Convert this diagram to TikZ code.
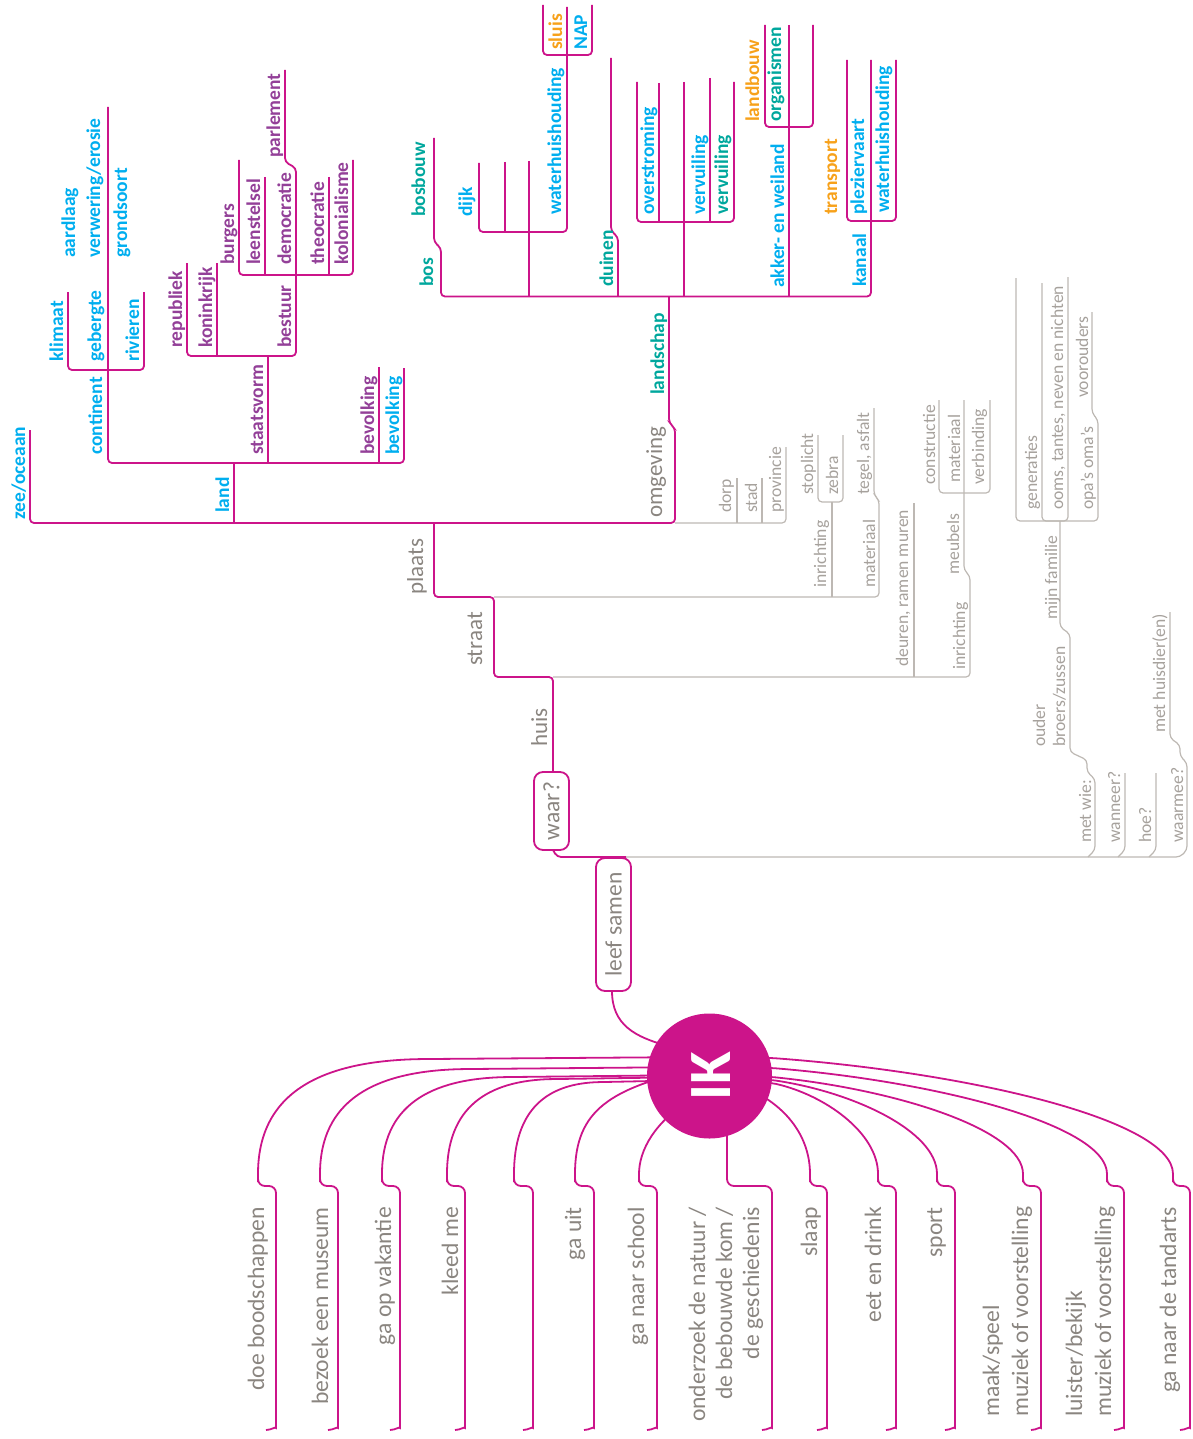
\documentclass[tikz,border=0pt]{standalone}
\usepackage{fontspec}
\setmainfont{Carlito}
\definecolor{mag}{RGB}{204,20,138}
\definecolor{cy}{RGB}{0,174,239}
\definecolor{pu}{RGB}{147,64,152}
\definecolor{te}{RGB}{0,167,157}
\definecolor{orr}{RGB}{247,161,26}
\definecolor{dtxt}{RGB}{138,133,128}
\definecolor{gtxt}{RGB}{166,161,156}
\definecolor{gln}{RGB}{189,184,179}
\begin{document}
\begin{tikzpicture}[x=1pt,y=-1pt,
  ml/.style={draw=mag, line width=1.8pt, rounded corners=4pt},
  gl/.style={draw=gln, line width=1.2pt, rounded corners=4pt},
  lb/.style={rotate=90, anchor=base west, inner sep=0pt, font=\bfseries\fontsize{19.5}{22}\selectfont},
  lg/.style={rotate=90, anchor=base west, inner sep=0pt, text=gtxt, font=\fontsize{17.6}{20}\selectfont},
  lm/.style={rotate=90, anchor=base west, inner sep=0pt, text=dtxt, font=\fontsize{23}{26}\selectfont},
  lbot/.style={rotate=90, anchor=base east, inner sep=0pt, text=dtxt, font=\fontsize{23.6}{26}\selectfont},
  lbotw/.style={rotate=90, anchor=base west, inner sep=0pt, text=dtxt, font=\fontsize{23.6}{26}\selectfont},
  boxn/.style={draw=mag, line width=1.8pt, rounded corners=9pt, fill=white, rotate=90, inner sep=0pt, text=dtxt, font=\fontsize{23.5}{26}\selectfont}
]
\useasboundingbox (0,0) rectangle (1192,1439);

% ---------- magenta tree ----------
\draw[ml] (612,991) .. controls (612,1025) and (635,1037) .. (668,1046);
\draw[ml] (553,850) -- (557,857) -- (626,857);
\draw[ml] (553,772) -- (553,677) -- (494,677) -- (494,597) -- (434,597) -- (434,523);
\draw[ml] (30,430) -- (30,523) -- (675,523) -- (675,428) -- (669,423) -- (669,296.5);
\draw[ml] (234,523) -- (234,463);
\draw[ml] (108,107) -- (108,463) -- (404,463) -- (404,368);
\draw[ml] (379,463) -- (379,367);
\draw[ml] (268,463) -- (268,356);
\draw[ml] (68,292) -- (68,370) -- (144,370) -- (144,292);
\draw[ml] (187,263) -- (187,356) -- (296,356) -- (296,168) -- (285,162) -- (285,70);
\draw[ml] (217,263) -- (217,356);
\draw[ml] (239,160) -- (239,275) -- (353,275) -- (353,160);
\draw[ml] (265,177) -- (265,275);
\draw[ml] (329,177) -- (329,275);
\draw[ml] (434,138) -- (434,242) -- (441,248) -- (441,296.5) -- (871,296.5) -- (871,60);
\draw[ml] (479,163) -- (479,232) -- (567,232) -- (567,7);
\draw[ml] (505,162) -- (505,232);
\draw[ml] (529,161) -- (529,296.5);
\draw[ml] (543,5) -- (543,55) -- (592,55) -- (592,5);
\draw[ml] (611,58) -- (611,231) -- (618,237) -- (618,296.5);
\draw[ml] (637,82) -- (637,222) -- (734,222) -- (734,82);
\draw[ml] (659,83) -- (659,222);
\draw[ml] (684,82) -- (684,296.5);
\draw[ml] (710,78) -- (710,222);
\draw[ml] (765,25) -- (765,127) -- (813,127) -- (813,25);
\draw[ml] (789,25) -- (789,296.5);
\draw[ml] (847,60) -- (847,221) -- (896,221) -- (896,60);

% ---------- grey tree ----------
\draw[gl] (626,857) -- (1180,857) -- (1187,850) -- (1187,763) -- (1180,756) -- (1180,745) -- (1170,738) -- (1170,612);
\draw[gl] (1060,521) -- (1060,627) -- (1070,634) -- (1070,752) -- (1087,760) -- (1087,772) -- (1095,779) -- (1095,850) -- (1088,857);
\draw[gl] (1125,773) -- (1125,850) -- (1118,857);
\draw[gl] (1156,773) -- (1156,850) -- (1149,857);
\draw[gl] (1016,278) -- (1016,521) -- (1098,521) -- (1098,420) -- (1092,413) -- (1092,312);
\draw[gl] (1042,283) -- (1042,521) -- (1068,521) -- (1068,277);
\draw[gl] (553,677) -- (970,677) -- (970,576) -- (964,570) -- (964,400);
\draw[gl] (914,503) -- (914,677);
\draw[gl] (939,400) -- (939,493) -- (990,493) -- (990,400);
\draw[gl] (494,597) -- (879,597) -- (879,500) -- (874,495) -- (874,408);
\draw[gl] (832,502) -- (832,597);
\draw[gl] (818,435) -- (818,502) -- (843,502) -- (843,435);
\draw[gl] (675,523) -- (786,523) -- (786,447);
\draw[gl] (737,478) -- (737,523);
\draw[gl] (762,478) -- (762,523);

% ---------- bottom branches ----------
\foreach \c/\l/\y/\k in {258/276/1057/170, 320/338/1067/150, 382/400/1075/130, 447/465/1077/110, 514/533/1080/90}{
  \draw[ml] (700,\y) -- ({\c+\k},{\y+2}) .. controls ({\c+0.35*\k},{\y+3}) and (\c,{\y+0.3*(1183-\y)}) .. (\c,1178) [rounded corners=7pt] -- (\c,1186) -- (\l,1186) -- (\l,1421) [sharp corners] to[out=-90,in=0] ({\l-10},1430);
}
\foreach \c/\l/\y in {878/896/1083, 937/955/1080, 1023/1041/1077, 1107/1124/1068, 1173/1190/1058}{
  \draw[ml] (740,\y) -- (772,\y) .. controls ({772+0.5*(\c-772)},{\y+0.12*(1183-\y)}) and (\c,{1183-0.5*(1183-\y)}) .. (\c,1178) [rounded corners=7pt] -- (\c,1186) -- (\l,1186) -- (\l,1421) [sharp corners] to[out=-90,in=0] ({\l-10},1430);
}
\draw[ml] (700,1068) .. controls (610,1088) and (575,1110) .. (575,1178) [rounded corners=7pt] -- (575,1186) -- (594,1186) -- (594,1421) [sharp corners] to[out=-90,in=0] (584,1430);
\draw[ml] (690,1100) .. controls (655,1122) and (639,1150) .. (639,1178) [rounded corners=7pt] -- (639,1186) -- (657,1186) -- (657,1421) [sharp corners] to[out=-90,in=0] (647,1430);
\draw[ml] (740,1085) .. controls (790,1105) and (810,1140) .. (810,1178) [rounded corners=7pt] -- (810,1186) -- (827,1186) -- (827,1421) [sharp corners] to[out=-90,in=0] (817,1430);
\draw[ml] (727,1120) [rounded corners=7pt] -- (727,1186) -- (772,1186) -- (772,1421) [sharp corners] to[out=-90,in=0] (762,1430);

% ---------- centre ----------
\node[circle, fill=mag, minimum size=125pt, inner sep=0pt] (ik) at (709.5,1076) {};
\node[rotate=90, text=white, inner sep=0pt, font=\bfseries\fontsize{60}{60}\selectfont] (iktxt) at (711,1076) {IK};
\node[boxn, minimum width=133pt, minimum height=35pt] (leef) at (613.5,924.5) {leef samen};
\node[boxn, minimum width=78pt, minimum height=35pt] (waar) at (551.5,811) {waar?};

% ---------- grey main labels ----------
\node[lm] (huis) at (547,747) {huis};
\node[lm] (straat) at (482,666) {straat};
\node[lm] (plaats) at (423,595) {plaats};
\node[lm] (omgeving) at (662,518) {omgeving};

% ---------- bold labels ----------
\node[lb,text=cy] (zee) at (25,520) {zee/oceaan};
\node[lb,text=cy] (land) at (229,513) {land};
\node[lb,text=cy] (continent) at (102,455) {continent};
\node[lb,text=cy] (klimaat) at (63,362) {klimaat};
\node[lb,text=cy] (gebergte) at (101,362) {gebergte};
\node[lb,text=cy] (rivieren) at (139,362) {rivieren};
\node[lb,text=cy] (aardlaag) at (75,258) {aardlaag};
\node[lb,text=cy] (verwering) at (100,258) {verwering/erosie};
\node[lb,text=cy] (grondsoort) at (127,258) {grondsoort};
\node[lb,text=pu] (staatsvorm) at (263,455) {staatsvorm};
\node[lb,text=pu] (republiek) at (182,348) {republiek};
\node[lb,text=pu] (koninkrijk) at (212,348) {koninkrijk};
\node[lb,text=pu] (bestuur) at (291,348) {bestuur};
\node[lb,text=pu] (burgers) at (234,265) {burgers};
\node[lb,text=pu] (leenstelsel) at (260,265) {leenstelsel};
\node[lb,text=pu] (democratie) at (291,265) {democratie};
\node[lb,text=pu] (parlement) at (280,158) {parlement};
\node[lb,text=pu] (theocratie) at (324,265) {theocratie};
\node[lb,text=pu] (kolonialisme) at (348,265) {kolonialisme};
\node[lb,text=pu] (bevolkingp) at (374,455) {bevolking};
\node[lb,text=cy] (bevolkingc) at (399,455) {bevolking};
\node[lb,text=te] (landschap) at (664,395) {landschap};
\node[lb,text=te] (bos) at (433,287) {bos};
\node[lb,text=te] (bosbouw) at (425,217) {bosbouw};
\node[lb,text=cy] (dijk) at (472,217) {dijk};
\node[lb,text=cy] (waterh1) at (561,215) {waterhuishouding};
\node[lb,text=orr] (sluis) at (562,50) {sluis};
\node[lb,text=cy] (nap) at (587,50) {NAP};
\node[lb,text=te] (duinen) at (613,287) {duinen};
\node[lb,text=cy] (overstroming) at (654,215) {overstroming};
\node[lb,text=cy] (vervuiling1) at (705,215) {vervuiling};
\node[lb,text=te] (vervuiling2) at (728,215) {vervuiling};
\node[lb,text=orr] (landbouw) at (759,122) {landbouw};
\node[lb,text=te] (organismen) at (781,122) {organismen};
\node[lb,text=cy] (akker) at (784,288) {akker- en weiland};
\node[lb,text=orr] (transport) at (837,215) {transport};
\node[lb,text=cy] (plezier) at (864,215) {pleziervaart};
\node[lb,text=cy] (waterh2) at (889,213) {waterhuishouding};
\node[lb,text=cy] (kanaal) at (866,287) {kanaal};

% ---------- grey small labels ----------
\node[lg] (dorp) at (731,513) {dorp};
\node[lg] (stad) at (757,513) {stad};
\node[lg] (provincie) at (781,513) {provincie};
\node[lg] (stoplicht) at (813,495) {stoplicht};
\node[lg] (zebra) at (838,495) {zebra};
\node[lg] (inrichting1) at (826,588) {inrichting};
\node[lg] (tegel) at (869,495) {tegel, asfalt};
\node[lg] (materiaal1) at (875,588) {materiaal};
\node[lg] (deuren) at (908,667) {deuren, ramen muren};
\node[lg] (constructie) at (935,485) {constructie};
\node[lg] (materiaal2) at (960,483) {materiaal};
\node[lg] (verbinding) at (984,485) {verbinding};
\node[lg] (meubels) at (959,575) {meubels};
\node[lg] (inrichting2) at (965,670) {inrichting};
\node[lg] (generaties) at (1037,510) {generaties};
\node[lg] (ooms) at (1063,510) {ooms, tantes, neven en nichten};
\node[lg] (voorouders) at (1088,398) {voorouders};
\node[lg] (opas) at (1093,510) {opa’s oma’s};
\node[lg] (familie) at (1057,620) {mijn familie};
\node[lg] (ouder) at (1045,747) {ouder};
\node[lg] (broers) at (1065,747) {broers/zussen};
\node[lg] (metwie) at (1091,843) {met wie:};
\node[lg] (wanneer) at (1120,843) {wanneer?};
\node[lg] (hoe) at (1151,843) {hoe?};
\node[lg] (waarmee) at (1183,843) {waarmee?};
\node[lg] (huisdier) at (1165,733) {met huisdier(en)};

% ---------- bottom labels ----------
\node[lbot] (b1) at (264,1207) {doe boodschappen};
\node[lbot] (b2) at (328,1207) {bezoek een museum};
\node[lbot] (b3) at (391,1207) {ga op vakantie};
\node[lbot] (b4) at (458,1207) {kleed me};
\node[lbot] (b5) at (581,1207) {ga uit};
\node[lbot] (b6) at (644,1207) {ga naar school};
\node[lbot] (b7a) at (705,1207) {onderzoek de natuur /};
\node[lbot] (b7b) at (732,1207) {de bebouwde kom /};
\node[lbot] (b7c) at (759,1207) {de geschiedenis};
\node[lbot] (b8) at (817,1207) {slaap};
\node[lbot] (b9) at (881,1207) {eet en drink};
\node[lbot] (b10) at (942,1207) {sport};
\node[lbotw] (b11a) at (999,1417) {maak/speel};
\node[lbotw] (b11b) at (1028,1417) {muziek of voorstelling};
\node[lbotw] (b12a) at (1082,1417) {luister/bekijk};
\node[lbotw] (b12b) at (1111,1417) {muziek of voorstelling};
\node[lbot] (b13) at (1176,1207) {ga naar de tandarts};
\end{tikzpicture}
\end{document}
